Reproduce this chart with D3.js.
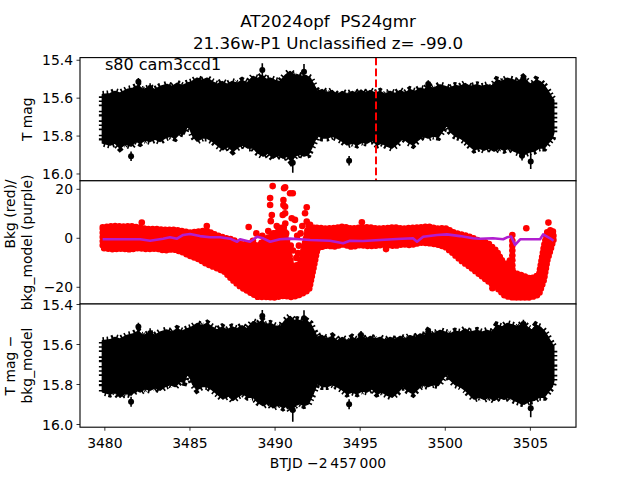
<!DOCTYPE html>
<html><head><meta charset="utf-8">
<script src="https://cdn.jsdelivr.net/npm/d3@7"></script>
<style>body{margin:0;background:#fff}text{font-family:"DejaVu Sans",sans-serif;fill:#000;white-space:pre}</style>
</head><body><svg id="c" width="640" height="480"></svg>
<script>
// ---------------- data ----------------
const titleLines = ["AT2024opf  PS24gmr", "21.36w-P1 Unclassified z= -99.0"];
const panelNote = "s80 cam3ccd1";
const xTicks = [3480, 3485, 3490, 3495, 3500, 3505];
const magTicks = [15.4, 15.6, 15.8, 16.0];
const bkgTicks = [-20, 0, 20];
const markTime = 3495.93;

// T mag band: upper (bright) edge and lower (faint) edge
const bandTopT = [3479.87,3480.31,3480.60,3480.89,3481.30,3481.66,3481.95,3482.24,3482.66,3482.95,3483.24,3483.65,3483.95,3484.24,3484.54,3484.83,3485.12,3485.42,3485.71,3486.00,3486.30,3486.59,3486.89,3487.18,3487.47,3487.77,3488.06,3488.35,3488.71,3489.00,3489.24,3489.47,3489.71,3490.00,3490.29,3490.59,3490.88,3491.12,3491.29,3491.59,3491.82,3492.06,3492.29,3492.47,3492.76,3493.06,3493.35,3493.64,3493.94,3494.23,3494.53,3494.76,3495.05,3495.35,3495.58,3495.88,3496.17,3496.46,3496.76,3497.05,3497.35,3497.64,3497.93,3498.22,3498.51,3498.81,3498.99,3499.28,3499.69,3499.99,3500.28,3500.58,3500.87,3501.17,3501.46,3501.87,3502.16,3502.46,3502.75,3503.04,3503.34,3503.63,3503.99,3504.28,3504.57,3504.87,3505.10,3505.34,3505.57,3505.81,3505.98,3506.22,3506.36];
const bandTopMag = [15.582,15.578,15.566,15.575,15.556,15.549,15.535,15.556,15.545,15.556,15.540,15.529,15.540,15.523,15.535,15.523,15.514,15.496,15.508,15.496,15.514,15.529,15.514,15.529,15.514,15.523,15.508,15.523,15.487,15.498,15.482,15.503,15.496,15.508,15.514,15.482,15.461,15.482,15.477,15.487,15.482,15.496,15.535,15.566,15.556,15.575,15.561,15.584,15.566,15.584,15.566,15.577,15.561,15.575,15.561,15.575,15.566,15.582,15.566,15.577,15.561,15.575,15.557,15.566,15.549,15.556,15.535,15.551,15.531,15.540,15.549,15.535,15.540,15.524,15.540,15.531,15.540,15.531,15.540,15.505,15.514,15.496,15.505,15.514,15.493,15.519,15.531,15.505,15.514,15.535,15.557,15.593,15.610];
const bandBotT = [3479.87,3480.31,3480.60,3480.89,3481.19,3481.54,3481.83,3482.07,3482.36,3482.66,3482.95,3483.24,3483.54,3483.83,3484.13,3484.42,3484.65,3484.83,3485.01,3485.18,3485.42,3485.71,3486.00,3486.30,3486.59,3486.94,3487.24,3487.53,3487.83,3488.12,3488.41,3488.71,3489.00,3489.30,3489.59,3489.88,3490.18,3490.47,3490.71,3490.94,3491.17,3491.47,3491.70,3491.94,3492.23,3492.47,3492.76,3493.06,3493.35,3493.64,3493.94,3494.23,3494.53,3494.82,3495.11,3495.40,3495.70,3495.99,3496.28,3496.58,3496.87,3497.16,3497.52,3497.81,3498.10,3498.40,3498.69,3498.99,3499.28,3499.58,3499.87,3500.11,3500.28,3500.58,3500.87,3501.17,3501.46,3501.70,3501.99,3502.28,3502.57,3502.87,3503.16,3503.45,3503.75,3504.04,3504.33,3504.63,3504.92,3505.22,3505.51,3505.81,3506.04,3506.28,3506.36];
const bandBotMag = [15.836,15.846,15.836,15.862,15.841,15.852,15.825,15.836,15.820,15.827,15.815,15.827,15.809,15.799,15.809,15.783,15.788,15.746,15.762,15.799,15.825,15.809,15.809,15.825,15.845,15.871,15.852,15.878,15.857,15.845,15.862,15.862,15.888,15.904,15.888,15.915,15.899,15.915,15.904,15.931,15.904,15.894,15.904,15.897,15.845,15.792,15.809,15.809,15.799,15.809,15.825,15.845,15.836,15.845,15.831,15.836,15.820,15.845,15.836,15.852,15.862,15.841,15.809,15.831,15.845,15.820,15.799,15.809,15.799,15.804,15.767,15.739,15.774,15.799,15.809,15.827,15.852,15.871,15.862,15.873,15.862,15.878,15.862,15.873,15.862,15.878,15.888,15.897,15.883,15.878,15.862,15.862,15.836,15.809,15.783];

// isolated T mag points with error bars (panel 1)
const out1T   = [3481.97,3482.66,3481.54,3489.25,3491.70,3491.04,3494.35,3495.05,3499.00,3504.59,3504.51,3505.02];
const out1Mag = [15.513,15.546,15.907,15.451,15.460,15.941,15.930,15.574,15.525,15.495,15.904,15.934];
const out1Err = [0.020,0.025,0.025,0.035,0.040,0.052,0.025,0.020,0.020,0.022,0.025,0.040];
// isolated points (panel 3, T mag - bkg_model)
const out3T   = [3481.97,3482.66,3481.54,3489.25,3491.70,3491.04,3494.35,3495.05,3499.00,3504.59,3504.51,3505.02];
const out3Mag = [15.511,15.544,15.886,15.458,15.469,15.928,15.899,15.553,15.536,15.498,15.886,15.919];
const out3Err = [0.020,0.025,0.025,0.030,0.040,0.058,0.025,0.020,0.020,0.022,0.025,0.045];

// background flux: band of the red points
const redT  = [3479.87,3480.5,3481,3481.5,3482,3482.5,3483,3483.5,3484,3484.5,3485,3485.5,3486,3486.5,3487,3487.5,3488,3488.5,3489,3489.5,3490,3490.5,3491,3491.5,3492,3492.3,3492.5,3493,3493.5,3494,3494.5,3495,3495.5,3496,3496.5,3497,3497.5,3498,3498.5,3499,3499.5,3500,3500.5,3501,3501.5,3502,3502.5,3503,3503.5,3503.8,3504,3504.5,3505,3505.5,3505.8,3506,3506.3,3506.36];
const redHi = [4.5,5.1,4.8,5.0,4.5,3.8,3.8,3.5,3.6,3.0,2.4,2.8,3.1,1.5,0.3,-0.5,-2.4,-2,-3,0,2,5,-12,-10,6,4,4.4,4.0,4.2,4.8,4.0,4.4,4.6,4.0,4.2,4.5,4.0,4.3,4.5,4.8,4.0,4.2,2.4,1.5,0.5,-1.0,-1.9,-5,-11,-9,-14,-15,-16.5,-15,-3,3.0,3.5,2];
const redLo = [-4,-4.5,-4.2,-4.6,-4.0,-4.5,-4.2,-5.0,-4.5,-5.5,-7.2,-8.5,-10.6,-12,-13.5,-17,-20,-22,-24,-24,-24.2,-23.5,-24,-23,-21,-11,-4,-3,-3.4,-2.5,-3.5,-2.8,-3.2,-3.0,-2.6,-3.2,-2.5,-2.8,-1.8,-2.0,-2.5,-3.5,-6.5,-9.5,-12,-14.7,-17.5,-20,-23.5,-24,-24.2,-24.2,-24.2,-23,-17,-9,-2,-1];
// scattered background points
const redPtT = [3482.17,3485.99,3496.52,3502.77,3506.06,3504.76,3495.10,
  3488.45,3488.70,3488.90,3489.10,3489.25,3489.40,3489.60,3489.71,3489.71,3489.75,3489.81,3489.86,3489.90,3490.00,3490.10,3490.20,3490.30,3490.35,3490.45,3490.49,3490.49,3490.53,3490.59,3490.59,3490.59,3490.60,3490.65,3490.70,3490.88,3490.98,3491.04,3491.10,3491.17,3491.30,3491.40,3491.50,3491.60,3491.76,3491.86,3491.86,3491.90,3492.00,3492.10,
  3491.05,3491.25,3491.35,3491.55,3490.92,3491.45,
  3503.94,3503.94,3503.94,3503.94,3503.94,3503.94,3503.94,3503.94];
const redPtV = [6.4,5.0,-4.4,-20.4,6.4,4.1,6.5,
  4.6,-1,2,-3,1,-5,3,16.4,13.6,7,9.5,21.3,2,-2,5,0,-4,3,9.5,15.6,13.6,20.4,20.8,12.9,10.2,6,2,-1,18.4,8.2,18.4,4,7.5,1,-3,2,5,10.2,12.7,6.8,3,0,-2,
  -5,-8,-6,-9,-3,-12,
  1.3,-1,-3,-5,-7,-9,-11,-13];
// background model (purple)
const modelT = [3479.87,3482.07,3482.66,3483.42,3483.83,3484.24,3484.60,3485.00,3485.59,3486.18,3486.77,3487.36,3487.77,3487.94,3488.53,3488.94,3489.30,3489.71,3490.29,3490.88,3491.47,3492.06,3493.23,3494.00,3494.40,3495.17,3496.17,3497.17,3498.10,3498.34,3498.70,3499.52,3500.10,3500.87,3501.63,3502.05,3502.80,3503.40,3503.63,3503.87,3504.10,3504.40,3505.57,3505.75,3506.16,3506.36];
const modelV = [-0.4,-0.4,-1.0,-0.15,0.4,-0.15,1.35,1.75,0.9,0.4,0.4,-0.15,-1.4,-0.4,-1.4,0.6,0.0,-1.4,-0.4,-0.15,-0.4,-0.7,-1.0,-2.0,-1.0,-1.1,-0.7,-0.3,0.0,-1.4,0.6,1.35,1.6,0.9,0.0,-0.2,0.0,-0.4,0.4,0.7,-2.7,-0.4,-0.4,1.6,0.0,-1.0];

// ---------------- layout ----------------
const svg = d3.select("#c");
const L = 80, R = 576, H = 123.2;
const tops = [57.6, 180.8, 304];
const x = d3.scaleLinear().domain([3478.54, 3507.68]).range([L, R]);
const y1 = d3.scaleLinear().domain([15.386, 16.036]).range([tops[0], tops[0] + H]);
const y2 = d3.scaleLinear().domain([23.47, -26.82]).range([tops[1], tops[1] + H]);
const y3 = d3.scaleLinear().domain([15.3975, 16.0135]).range([tops[2], tops[2] + H]);
const PURPLE = "#b01ed0";

const defs = svg.append("defs");
tops.forEach((t, i) => {
  defs.append("clipPath").attr("id", "cp" + i).append("rect")
    .attr("x", L).attr("y", t).attr("width", R - L).attr("height", H);
});

function bandPath(ys) {
  const pts = bandTopT.map((t, i) => [x(t), ys(bandTopMag[i])])
    .concat(bandBotT.map((t, i) => [x(t), ys(bandBotMag[i])]).reverse());
  return d3.line().curve(d3.curveLinearClosed)(pts);
}

function magPanel(i, ys, oT, oM, oE) {
  const g = svg.append("g").attr("clip-path", `url(#cp${i})`);
  g.append("rect").attr("x", L).attr("y", tops[i]).attr("width", R - L).attr("height", H).attr("fill", "#fff");
  // body of the dense error bars
  g.append("path").attr("d", bandPath(ys)).attr("fill", "#000")
    .attr("stroke", "#000").attr("stroke-width", 2).attr("stroke-linejoin", "round");
  // ragged rim of error-bar tips
  g.append("path").attr("d", bandPath(ys)).attr("fill", "none")
    .attr("stroke", "#000").attr("stroke-width", 7.5)
    .attr("stroke-dasharray", "1.6,2.6,1.6,3.8,2.2,2.0,1.6,4.4,1.8,2.4");
  oT.forEach((t, k) => {
    g.append("line").attr("x1", x(t)).attr("x2", x(t))
      .attr("y1", ys(oM[k] - oE[k])).attr("y2", ys(oM[k] + oE[k]))
      .attr("stroke", "#000").attr("stroke-width", 1.6);
    g.append("circle").attr("cx", x(t)).attr("cy", ys(oM[k])).attr("r", 3).attr("fill", "#000");
  });
  return g;
}

function yAxis(i, ys, ticks, fmt) {
  const g = svg.append("g");
  ticks.forEach(v => {
    const yy = ys(v);
    g.append("line").attr("x1", L - 3.5).attr("x2", L).attr("y1", yy).attr("y2", yy)
      .attr("stroke", "#000").attr("stroke-width", 0.8);
    g.append("text").attr("x", L - 7).attr("y", yy).attr("dy", "0.36em")
      .attr("text-anchor", "end").attr("font-size", 13.9).text(fmt(v));
  });
}
function frame(i) {
  svg.append("rect").attr("x", L).attr("y", tops[i]).attr("width", R - L).attr("height", H)
    .attr("fill", "none").attr("stroke", "#000").attr("stroke-width", 1.1);
}
function yLabelLine(s, bx, cy) {
  svg.append("text").attr("transform", `translate(${bx},${cy}) rotate(-90)`)
    .attr("text-anchor", "middle").attr("font-size", 13.9).text(s);
}
const fmtMag = d3.format(".1f");
const fmtBkg = v => d3.format("d")(v);

// panel 1
const g1 = magPanel(0, y1, out1T, out1Mag, out1Err);
g1.append("line").attr("x1", x(markTime)).attr("x2", x(markTime))
  .attr("y1", tops[0]).attr("y2", tops[0] + H)
  .attr("stroke", "#ff0000").attr("stroke-width", 2).attr("stroke-dasharray", "7.7,3.3");
svg.append("text").attr("x", 105).attr("y", 69.5).attr("font-size", 16).text(panelNote);
yAxis(0, y1, magTicks, fmtMag);
frame(0);

// panel 2
const g2 = svg.append("g").attr("clip-path", "url(#cp1)");
g2.append("rect").attr("x", L).attr("y", tops[1]).attr("width", R - L).attr("height", H).attr("fill", "#fff");
const redArea = d3.area().x(t => x(t)).y0((t, i) => y2(redLo[i])).y1((t, i) => y2(redHi[i]));
g2.append("path").datum(redT).attr("d", redArea)
  .attr("fill", "#ff0000").attr("stroke", "#ff0000").attr("stroke-width", 3).attr("stroke-linejoin", "round");
// rim of overlapping round markers
g2.append("path").datum(redT).attr("d", redArea)
  .attr("fill", "none").attr("stroke", "#ff0000").attr("stroke-width", 6.4)
  .attr("stroke-linecap", "round").attr("stroke-dasharray", "0,4.2");
redPtT.forEach((t, k) => {
  g2.append("circle").attr("cx", x(t)).attr("cy", y2(redPtV[k])).attr("r", 3.3).attr("fill", "#ff0000");
});
g2.append("path").datum(modelT)
  .attr("d", d3.line().x(t => x(t)).y((t, i) => y2(modelV[i])))
  .attr("fill", "none").attr("stroke", PURPLE).attr("stroke-width", 2.6).attr("stroke-linejoin", "round");
yAxis(1, y2, bkgTicks, fmtBkg);
frame(1);

// panel 3
magPanel(2, y3, out3T, out3Mag, out3Err);
yAxis(2, y3, magTicks, fmtMag);
frame(2);

// x axis (bottom panel)
const xb = tops[2] + H;
xTicks.forEach(v => {
  svg.append("line").attr("x1", x(v)).attr("x2", x(v)).attr("y1", xb).attr("y2", xb + 3.5)
    .attr("stroke", "#000").attr("stroke-width", 0.8);
  svg.append("text").attr("x", x(v)).attr("y", xb + 20.5).attr("text-anchor", "middle")
    .attr("font-size", 13.9).text(v);
});
svg.append("text").attr("x", 328).attr("y", 468).attr("text-anchor", "middle")
  .attr("font-size", 13.9).text("BTJD \u22122\u2009457\u2009000");

// labels
yLabelLine("T mag", 32, tops[0] + H / 2);
yLabelLine("Bkg (red)/", 15.3, 214);
yLabelLine("bkg_model (purple)", 32, tops[1] + H / 2);
yLabelLine("T mag \u2212", 15.3, tops[2] + H / 2);
yLabelLine("bkg_model", 32, tops[2] + H / 2);

// title
svg.append("text").attr("x", 328).attr("y", 27).attr("text-anchor", "middle").attr("font-size", 16.7).text(titleLines[0]);
svg.append("text").attr("x", 328).attr("y", 48.5).attr("text-anchor", "middle").attr("font-size", 16.7).text(titleLines[1]);
</script></body></html>
